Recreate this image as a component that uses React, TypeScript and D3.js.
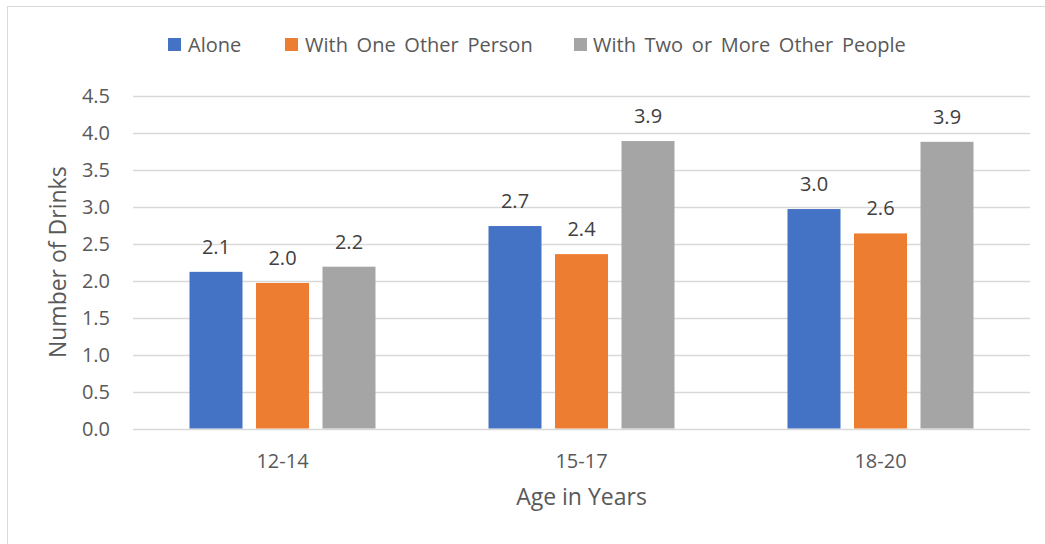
import React from "react";
import * as d3 from "d3";

// Average number of drinks by age group and drinking context
const categories = ["12-14", "15-17", "18-20"];
const seriesNames = ["Alone", "With One Other Person", "With Two or More Other People"];
const alone = [2.12, 2.74, 2.97];
const withOne = [1.97, 2.36, 2.64];
const withTwoOrMore = [2.19, 3.89, 3.88];
const yTicks = [0, 0.5, 1, 1.5, 2, 2.5, 3, 3.5, 4, 4.5];
const colors = ["#4472c4", "#ed7d31", "#a5a5a5"];

const W = 1045;
const H = 544;
const FONT = "'Open Sans', sans-serif";

export default function App() {
  const series = [alone, withOne, withTwoOrMore];

  const plot = { left: 133, right: 1030, top: 96, bottom: 428.5 };
  const x = d3
    .scaleBand<string>()
    .domain(categories)
    .range([plot.left, plot.right])
    .paddingInner(0)
    .paddingOuter(0);
  const y = d3.scaleLinear().domain([0, 4.5]).range([plot.bottom, plot.top]);

  const barW = 53;
  const barGap = 13.5;
  const groupW = barW * 3 + barGap * 2;

  // legend layout: square then label
  const legendItems = [
    { sq: 168, tx: 188 },
    { sq: 285, tx: 305 },
    { sq: 574, tx: 593 },
  ];

  return (
    <svg
      width={W}
      height={H}
      style={{ position: "absolute", left: 0, top: 0, background: "#fff" }}
      fontFamily={FONT}
    >
      <rect x={7.5} y={6.5} width={W + 10} height={H + 10} fill="#fff" stroke="#d9d9d9" strokeWidth={1} />

      {/* gridlines */}
      {yTicks.map((t) => (
        <line
          key={t}
          x1={plot.left}
          x2={plot.right}
          y1={Math.round(y(t)) + 0.5}
          y2={Math.round(y(t)) + 0.5}
          stroke="#d9d9d9"
          strokeWidth={1.3}
        />
      ))}

      {/* y tick labels */}
      {yTicks.map((t) => (
        <text
          key={"l" + t}
          x={110}
          y={y(t)}
          dy="0.35em"
          textAnchor="end"
          fontSize={20}
          fill="#595959"
        >
          {t.toFixed(1)}
        </text>
      ))}

      {/* bars and value labels */}
      {categories.map((c, ci) => {
        const gx = (x(c) as number) + (x.bandwidth() - groupW) / 2;
        return series.map((s, si) => {
          const bx = gx + si * (barW + barGap);
          const v = s[ci];
          return (
            <g key={c + si}>
              <rect x={bx} y={y(v)} width={barW} height={y(0) - y(v)} fill={colors[si]} />
              <text
                x={bx + barW / 2}
                y={y(v) - 18}
                textAnchor="middle"
                fontSize={20}
                fill="#404040"
              >
                {v.toFixed(1)}
              </text>
            </g>
          );
        });
      })}

      {/* x tick labels */}
      {categories.map((c) => (
        <text
          key={"x" + c}
          x={(x(c) as number) + x.bandwidth() / 2}
          y={468}
          textAnchor="middle"
          fontSize={20}
          fill="#595959"
        >
          {c}
        </text>
      ))}

      {/* axis titles */}
      <text x={(plot.left + plot.right) / 2} y={505} textAnchor="middle" fontSize={23} fill="#595959">
        Age in Years
      </text>
      <text
        transform={`translate(66, ${(plot.top + plot.bottom) / 2}) rotate(-90)`}
        textAnchor="middle"
        fontSize={23}
        fill="#595959"
      >
        Number of Drinks
      </text>

      {/* legend */}
      {seriesNames.map((n, i) => (
        <g key={n}>
          <rect x={legendItems[i].sq} y={38} width={13} height={13} fill={colors[i]} />
          <text
            x={legendItems[i].tx}
            y={45}
            dy="0.35em"
            fontSize={20}
            wordSpacing={3.5}
            fill="#595959"
          >
            {n}
          </text>
        </g>
      ))}
    </svg>
  );
}
